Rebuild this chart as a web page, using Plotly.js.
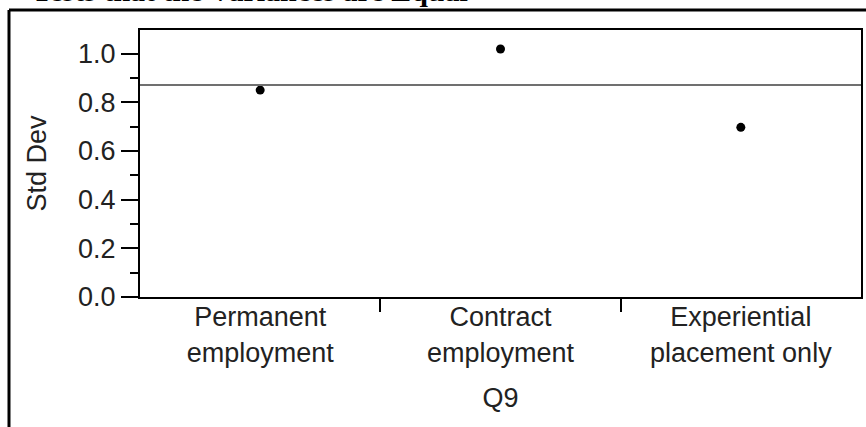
<!DOCTYPE html>
<html>
<head>
<meta charset="utf-8">
<script src="https://cdn.plot.ly/plotly-3.0.1.min.js"></script>
<style>html,body{margin:0;padding:0;background:#fff;}#chart{width:866px;height:427px;}</style>
</head>
<body>
<div id="chart"></div>
<script>
const categories = ["Permanent<br>employment", "Contract<br>employment", "Experiential<br>placement only"];
const stdDev = [0.850, 1.019, 0.697];
const overallStdDev = 0.871;
const yTickVals = [0, 0.2, 0.4, 0.6, 0.8, 1.0];
const yTickText = ["0.0", "0.2", "0.4", "0.6", "0.8", "1.0"];
const headerText = "Tests that the Variances are Equal";

const font = "Liberation Sans, Arial, sans-serif";
const fs = 27;

const traces = [
  {
    type: "scatter", mode: "lines", xaxis: "x2", yaxis: "y",
    x: [0, categories.length], y: [overallStdDev, overallStdDev],
    line: {color: "#707070", width: 2}, hoverinfo: "skip", showlegend: false
  },
  {
    type: "scatter", mode: "markers", xaxis: "x", yaxis: "y",
    x: categories, y: stdDev,
    marker: {color: "#000", size: 9}, showlegend: false
  }
];

const layout = {
  width: 866, height: 427,
  margin: {l: 140, r: 5, t: 30, b: 130},
  paper_bgcolor: "#fff", plot_bgcolor: "#fff",
  font: {family: font, color: "#222", size: fs},
  xaxis: {
    type: "category", range: [-0.5, 2.5],
    showline: true, mirror: true, linecolor: "#000", linewidth: 2,
    ticks: "", showgrid: false, zeroline: false, ticklabelstandoff: -5,
    tickfont: {family: font, size: fs, color: "#222"},
    title: {text: "Q9", font: {family: font, size: fs, color: "#222"}, standoff: 22},
    automargin: false
  },
  xaxis2: {
    overlaying: "x", anchor: "y", side: "bottom", range: [0, categories.length],
    tickvals: [1, 2], showticklabels: false, ticks: "outside", ticklen: 14, tickwidth: 2, tickcolor: "#000",
    showline: false, showgrid: false, zeroline: false
  },
  yaxis: {
    range: [0, 1.097], tickvals: yTickVals, ticktext: yTickText,
    ticks: "outside", ticklen: 17, tickwidth: 2, tickcolor: "#000",
    minor: {dtick: 0.1, tick0: 0, ticks: "outside", ticklen: 8, tickwidth: 2, tickcolor: "#000", showgrid: false},
    showline: true, mirror: true, linecolor: "#000", linewidth: 2,
    showgrid: false, zeroline: false,
    tickfont: {family: font, size: fs, color: "#222"},
    title: {text: "Std Dev", font: {family: font, size: fs, color: "#222"}, standoff: 24},
    automargin: false
  },
  shapes: [
    {type: "line", xref: "paper", yref: "paper", x0: -0.1817, x1: 1.2, y0: 1.0749, y1: 1.0749, line: {color: "#000", width: 3}},
    {type: "line", xref: "paper", yref: "paper", x0: -0.1817, x1: -0.1817, y0: 1.0749, y1: -0.7, line: {color: "#000", width: 3}}
  ],
  annotations: [
    {text: "<b>" + headerText + "</b>", xref: "paper", yref: "paper", x: -0.1526, y: 1.149,
     xanchor: "left", yanchor: "middle", showarrow: false,
     font: {family: "Liberation Serif, Times New Roman, serif", size: 30, color: "#000"}}
  ]
};

Plotly.newPlot("chart", traces, layout, {displayModeBar: false, staticPlot: true});
</script>
</body>
</html>
